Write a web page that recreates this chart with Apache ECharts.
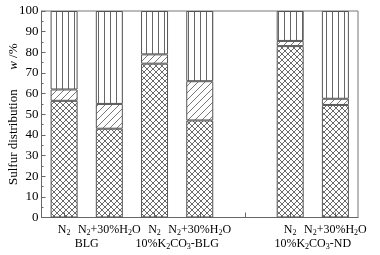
<!DOCTYPE html>
<html>
<head>
<meta charset="utf-8">
<script src="https://cdn.jsdelivr.net/npm/echarts@6/dist/echarts.min.js"></script>
<style>
html,body{margin:0;padding:0;background:#fff;}
#chart{width:380px;height:255px;}
</style>
</head>
<body>
<div id="chart"></div>
<script>
// ---- data ----
const categories = ['N2', 'N2+30%H2O', 'N2', 'N2+30%H2O', '', 'N2', 'N2+30%H2O'];
const crossVals = [56.5, 43, 74.5, 47, '-', 83, 54.5];   // bottom (cross-hatched)
const hatchVals = [5.5, 12, 4.5, 19, '-', 2.5, 3];       // middle (diagonal)
const lineVals  = [38, 45, 21, 34, '-', 14.5, 42.5];     // top (vertical lines)
const groupNames = ['BLG', '10%K2CO3-BLG', '10%K2CO3-ND'];
const groupCenters = [0.5, 2.5, 5.5];
const catIndex = [0, 1, 2, 3, 4, 5, 6];

const FONT = 'Liberation Serif';
const LINE = '#555';

function sub(s) { return s.replace(/([A-Z])(\d)/g, '$1{s|$2}'); }

function pattern(type) {
  const c = document.createElement('canvas');
  const ctx = c.getContext('2d');
  if (type === 'cross') {
    c.width = 6; c.height = 6;
    ctx.strokeStyle = '#444'; ctx.lineWidth = 0.8;
    ctx.beginPath();
    ctx.moveTo(-1, -1); ctx.lineTo(7, 7);
    ctx.moveTo(-1, 7); ctx.lineTo(7, -1);
    ctx.stroke();
  } else if (type === 'diag') {
    c.width = 7; c.height = 7;
    ctx.strokeStyle = '#555'; ctx.lineWidth = 0.8;
    ctx.beginPath();
    for (const k of [-7, 0, 7]) { ctx.moveTo(k, 7); ctx.lineTo(k + 7, 0); }
    ctx.stroke();
  } else {
    c.width = 6; c.height = 6;
    ctx.strokeStyle = '#666'; ctx.lineWidth = 1;
    ctx.beginPath();
    ctx.moveTo(2.5, 0); ctx.lineTo(2.5, 6);
    ctx.stroke();
  }
  return { image: c, repeat: 'repeat' };
}

const richSub = {
  s: { fontSize: 8, fontFamily: FONT, color: '#000', verticalAlign: 'bottom', lineHeight: 8 }
};

const chart = echarts.init(document.getElementById('chart'), null, { renderer: 'canvas' });

function barSeries(name, data, type) {
  return {
    name: name, type: 'bar', stack: 'total', data: data, barWidth: 27,
    xAxisIndex: 0,
    itemStyle: { color: pattern(type), borderColor: LINE, borderWidth: 1 },
    emphasis: { disabled: true }
  };
}

chart.setOption({
  animation: false,
  backgroundColor: '#fff',
  textStyle: { fontFamily: FONT },
  grid: {
    left: 41.5, right: 22, top: 11, bottom: 37.5, show: true,
    borderColor: '#777', borderWidth: 1,
    containLabel: false, outerBoundsMode: 'none'
  },
  xAxis: [
    {
      type: 'category', data: categories, position: 'bottom',
      axisLine: { lineStyle: { color: '#666' } },
      axisTick: { inside: true, length: 3, lineStyle: { color: '#666' } },
      axisLabel: {
        interval: 0, hideOverlap: false,
        margin: 5, fontSize: 12, fontFamily: FONT, color: '#000', lineHeight: 14,
        formatter: v => sub(v), rich: richSub
      },
      splitLine: { show: false }
    },
    {
      type: 'value', min: -0.5, max: 6.5, position: 'bottom',
      axisLine: { show: false },
      axisTick: { show: true, inside: true, length: 5, customValues: catIndex, lineStyle: { color: '#666' } },
      axisLabel: {
        margin: 19, fontSize: 12, fontFamily: FONT, color: '#000', lineHeight: 14,
        customValues: groupCenters, hideOverlap: false,
        formatter: v => { const i = groupCenters.indexOf(v); return i >= 0 ? sub(groupNames[i]) : ''; },
        rich: richSub
      },
      splitLine: { show: false }
    }
  ],
  yAxis: {
    type: 'value', min: 0, max: 100, interval: 10,
    name: 'Sulfur distribution      {i|w} /%', nameLocation: 'middle', nameGap: 21,
    nameMoveOverlap: false,
    nameTextStyle: { fontSize: 13, fontFamily: FONT, color: '#000', rich: { i: { fontStyle: 'italic', fontSize: 13, fontFamily: FONT } } },
    axisLine: { show: true, onZero: false, lineStyle: { color: '#666' } },
    axisTick: { inside: true, length: 4, lineStyle: { color: '#666' } },
    minorTick: { show: true, splitNumber: 2, length: 2, lineStyle: { color: '#666' } },
    axisLabel: { fontSize: 13, fontFamily: FONT, color: '#000', margin: 3 },
    splitLine: { show: false }
  },
  series: [
    barSeries('cross', crossVals, 'cross'),
    barSeries('diag', hatchVals, 'diag'),
    barSeries('vert', lineVals, 'vert')
  ]
});
</script>
</body>
</html>
